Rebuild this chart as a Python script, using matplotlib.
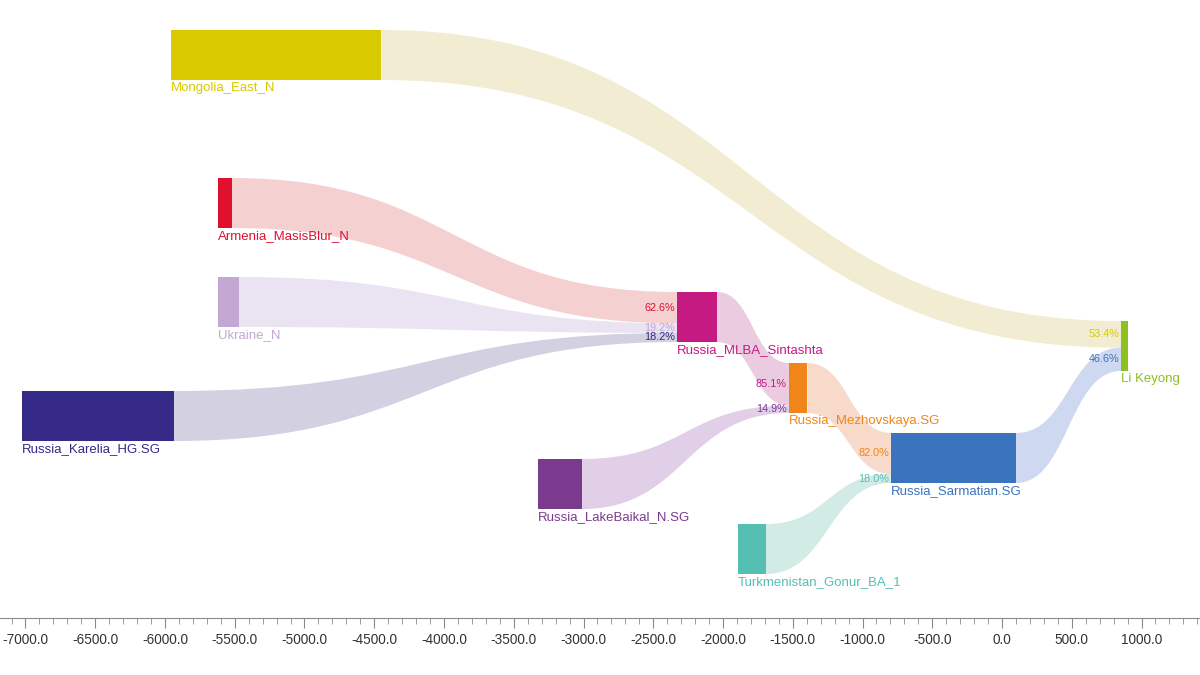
import matplotlib.pyplot as plt
from matplotlib.path import Path
from matplotlib.patches import PathPatch, Rectangle
from matplotlib.ticker import MultipleLocator, FormatStrFormatter

plt.rcParams['font.family'] = ['Liberation Sans', 'DejaVu Sans']

# nodes: name, start year, end year
node_names = ['Mongolia_East_N', 'Armenia_MasisBlur_N', 'Ukraine_N', 'Russia_Karelia_HG.SG',
              'Russia_MLBA_Sintashta', 'Russia_LakeBaikal_N.SG', 'Russia_Mezhovskaya.SG',
              'Turkmenistan_Gonur_BA_1', 'Russia_Sarmatian.SG', 'Li Keyong']
node_start = [-5960, -5620, -5620, -7027, -2330, -3326, -1527, -1892, -796, 853]
node_end = [-4450, -5520, -5470, -5935, -2043, -3011, -1395, -1692, 100, 903]

# links: source, target, share of target (%)
link_source = ['Armenia_MasisBlur_N', 'Ukraine_N', 'Russia_Karelia_HG.SG',
               'Russia_MLBA_Sintashta', 'Russia_LakeBaikal_N.SG',
               'Russia_Mezhovskaya.SG', 'Turkmenistan_Gonur_BA_1',
               'Mongolia_East_N', 'Russia_Sarmatian.SG']
link_target = ['Russia_MLBA_Sintashta', 'Russia_MLBA_Sintashta', 'Russia_MLBA_Sintashta',
               'Russia_Mezhovskaya.SG', 'Russia_Mezhovskaya.SG',
               'Russia_Sarmatian.SG', 'Russia_Sarmatian.SG',
               'Li Keyong', 'Li Keyong']
link_share = [62.6, 19.2, 18.2, 85.1, 14.9, 82.0, 18.0, 53.4, 46.6]

# layout (vertical position of each bar top, in pixels) and colours
node_top = [30, 178, 277, 391, 292, 459, 363, 524, 433, 321]
node_height = 50
node_colors = ['#d9c900', '#e0102f', '#c2a8d3', '#352a87', '#c41a82',
               '#7a3b8f', '#f0861a', '#55bfb4', '#3a74be', '#8dc021']
flow_colors = ['#f1eacd', '#f3cbcc', '#e7e0f1', '#cdcbde', '#e8c6dc',
               '#ddcae5', '#f8d6c6', '#cdeae3', '#c9d4ef', '#e0edc8']

PX = 0.1395  # pixels per year


def draw_link(ax, x0, y0a, y0b, x1, y1a, y1b, color):
    xm = (x0 + x1) / 2
    verts = [(x0, y0a), (xm, y0a), (xm, y1a), (x1, y1a),
             (x1, y1b), (xm, y1b), (xm, y0b), (x0, y0b), (x0, y0a)]
    codes = [Path.MOVETO, Path.CURVE4, Path.CURVE4, Path.CURVE4,
             Path.LINETO, Path.CURVE4, Path.CURVE4, Path.CURVE4, Path.CLOSEPOLY]
    ax.add_patch(PathPatch(Path(verts, codes), facecolor=color, edgecolor='none',
                           alpha=0.9, zorder=1))


fig = plt.figure(figsize=(12, 6.75), dpi=100)
ax = fig.add_axes([0, 0, 1, 1])
ax.set_xlim(-1002 / PX, 198 / PX)
ax.set_ylim(675, 0)

idx = {n: i for i, n in enumerate(node_names)}
offset = {n: 0.0 for n in node_names}

for src, tgt, share in zip(link_source, link_target, link_share):
    s, t = idx[src], idx[tgt]
    h = node_height * share / 100
    t0 = node_top[t] + offset[tgt]
    offset[tgt] += h
    draw_link(ax, node_end[s], node_top[s], node_top[s] + node_height,
              node_start[t], t0, t0 + h, flow_colors[s])
    ax.text(node_start[t] - 2 / PX, t0 + h / 2, f'{share:.1f}%', color=node_colors[s],
            fontsize=7.8, ha='right', va='center', zorder=3)

for i, name in enumerate(node_names):
    ax.add_patch(Rectangle((node_start[i], node_top[i]), node_end[i] - node_start[i],
                           node_height, facecolor=node_colors[i], edgecolor='none', zorder=2))
    ax.text(node_start[i], node_top[i] + node_height + 2, name, color=node_colors[i],
            fontsize=9.5, ha='left', va='top', zorder=3)

# time axis at the bottom
for side in ['top', 'left', 'right']:
    ax.spines[side].set_visible(False)
ax.spines['bottom'].set_position(('data', 618))
ax.spines['bottom'].set_color('#8a8a8a')
ax.xaxis.set_major_locator(MultipleLocator(500))
ax.xaxis.set_minor_locator(MultipleLocator(100))
ax.xaxis.set_major_formatter(FormatStrFormatter('%.1f'))
ax.tick_params(axis='x', which='major', direction='out', length=7, color='#8a8a8a',
               labelsize=9.8, labelcolor='#333333', pad=4)
ax.tick_params(axis='x', which='minor', direction='out', length=4, color='#8a8a8a')
ax.set_yticks([])
ax.patch.set_visible(False)

plt.savefig('out.png', dpi=100)
